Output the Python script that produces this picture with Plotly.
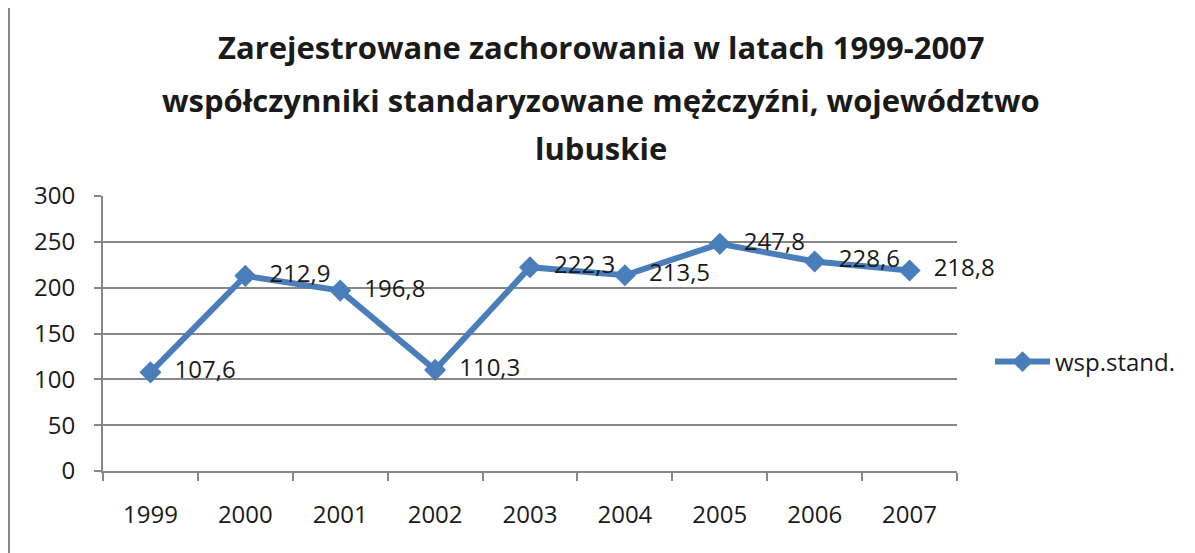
import plotly.graph_objects as go

years = ["1999", "2000", "2001", "2002", "2003", "2004", "2005", "2006", "2007"]
values = [107.6, 212.9, 196.8, 110.3, 222.3, 213.5, 247.8, 228.6, 218.8]
labels = ["107,6", "212,9", "196,8", "110,3", "222,3", "213,5", "247,8", "228,6", "218,8"]
title_lines = [
    "Zarejestrowane zachorowania w latach 1999-2007",
    "współczynniki standaryzowane mężczyźni, województwo",
    "lubuskie",
]

# the page body has an 8px margin, so work in page pixels minus 8
OFF = 8
W, H = 1195 - OFF, 553 - OFF
L, R, T, B = 103 - OFF, 957 - OFF, 196 - OFF, 471 - OFF
FONT = "Open Sans"
GRAY = "#868686"
BLUE = "#4A7EBB"
TXT = "#1a1a1a"


def px_x(p):
    return (p - OFF - L) / (R - L)


def px_y(p):
    return (B - (p - OFF)) / (B - T)


fig = go.Figure()
fig.add_trace(go.Scatter(
    x=years, y=values, name="wsp.stand.",
    mode="lines+markers+text",
    text=["  " + t for t in labels],
    textposition="middle right",
    textfont=dict(family=FONT, size=24, color=TXT),
    line=dict(color=BLUE, width=6),
    marker=dict(symbol="diamond", size=17, color=BLUE),
    cliponaxis=False,
))

# title as three lines
for txt, py in zip(title_lines, [47, 100, 148]):
    fig.add_annotation(
        text="<b>" + txt + "</b>", xref="paper", yref="paper",
        x=px_x(601), y=px_y(py), xanchor="center", yanchor="middle",
        showarrow=False, font=dict(family=FONT, size=31, color=TXT),
    )

# chart frame (only top and left edges visible)
fig.add_shape(type="line", xref="paper", yref="paper",
              x0=px_x(8.5), x1=px_x(1250), y0=px_y(6), y1=px_y(6),
              line=dict(color=GRAY, width=3))
fig.add_shape(type="line", xref="paper", yref="paper",
              x0=px_x(8.5), x1=px_x(8.5), y0=px_y(6), y1=px_y(600),
              line=dict(color=GRAY, width=3))

fig.update_layout(
    width=W, height=H,
    margin=dict(l=L, r=W - R, t=T, b=H - B),
    paper_bgcolor="white", plot_bgcolor="white",
    font=dict(family=FONT, size=24, color=TXT),
    showlegend=True,
    legend=dict(x=px_x(990), y=px_y(362), xanchor="left", yanchor="middle",
                font=dict(family=FONT, size=24, color=TXT),
                itemwidth=55, bgcolor="rgba(0,0,0,0)"),
    xaxis=dict(
        type="category", range=[-0.5, 8.5],
        showline=True, linecolor=GRAY, linewidth=2,
        ticks="outside", tickson="boundaries", ticklen=8, tickcolor=GRAY, tickwidth=2,
        showgrid=False, ticklabelstandoff=21,
    ),
    yaxis=dict(
        range=[0, 300], dtick=50,
        showline=True, linecolor=GRAY, linewidth=2,
        ticks="outside", ticklen=7, tickcolor=GRAY, tickwidth=2,
        showgrid=True, gridcolor=GRAY, gridwidth=2,
        zeroline=False, ticklabelstandoff=14,
    ),
)

fig.write_html("out.html")
